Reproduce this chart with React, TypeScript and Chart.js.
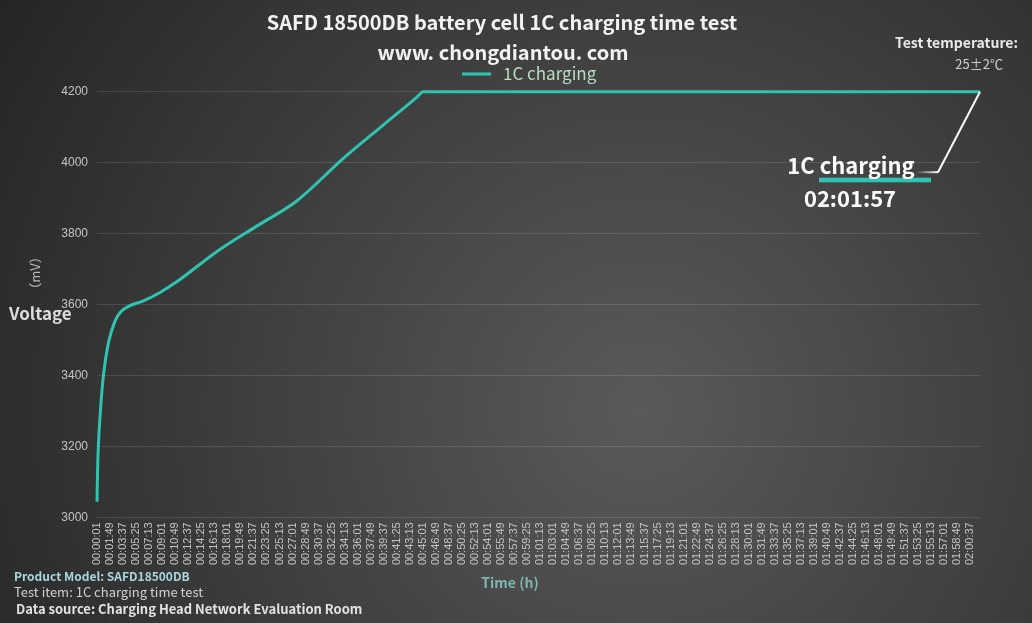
import React, { useEffect, useRef } from "react";
import { Chart, registerables } from "chart.js";

Chart.register(...registerables);

// ---- data ----
const sampleTimes: string[] = [
  "00:00:01", "00:00:05", "00:00:12", "00:00:32", "00:00:53", "00:01:35",
  "00:02:30", "00:03:20", "00:04:30", "00:06:25", "00:08:43", "00:11:01",
  "00:16:33", "00:22:04", "00:27:36", "00:34:02", "00:39:33", "00:44:10",
  "00:45:05", "02:01:57",
];
const voltageMv: number[] = [
  3044, 3120, 3199, 3312, 3396, 3491,
  3553, 3580, 3596, 3610, 3634, 3664,
  3749, 3821, 3892, 4012, 4106, 4184,
  4200, 4200,
];
const xTickLabels: string[] = [
  "00:00:01", "00:01:49", "00:03:37", "00:05:25", "00:07:13", "00:09:01",
  "00:10:49", "00:12:37", "00:14:25", "00:16:13", "00:18:01", "00:19:49",
  "00:21:37", "00:23:25", "00:25:13", "00:27:01", "00:28:49", "00:30:37",
  "00:32:25", "00:34:13", "00:36:01", "00:37:49", "00:39:37", "00:41:25",
  "00:43:13", "00:45:01", "00:46:49", "00:48:37", "00:50:25", "00:52:13",
  "00:54:01", "00:55:49", "00:57:37", "00:59:25", "01:01:13", "01:03:01",
  "01:04:49", "01:06:37", "01:08:25", "01:10:13", "01:12:01", "01:13:49",
  "01:15:37", "01:17:25", "01:19:13", "01:21:01", "01:22:49", "01:24:37",
  "01:26:25", "01:28:13", "01:30:01", "01:31:49", "01:33:37", "01:35:25",
  "01:37:13", "01:39:01", "01:40:49", "01:42:37", "01:44:25", "01:46:13",
  "01:48:01", "01:49:49", "01:51:37", "01:53:25", "01:55:13", "01:57:01",
  "01:58:49", "02:00:37",
];
const yMin = 3000;
const yMax = 4200;
const yStep = 200;
const seriesName = "1C charging";
const endLabelTime = "02:01:57";

const titleLines = ["SAFD 18500DB battery cell 1C charging time test", "www. chongdiantou. com"];
const infoLines = [
  "Product Model: SAFD18500DB",
  "Test item: 1C charging time test",
  "Data source: Charging Head Network Evaluation Room",
];

const toSec = (s: string) => {
  const [h, m, x] = s.split(":").map(Number);
  return h * 3600 + m * 60 + x;
};
const tickSecs = xTickLabels.map(toSec);
const tickMap = new Map<number, string>();
xTickLabels.forEach((l) => tickMap.set(toSec(l), l));

const CJK = '"Noto Sans CJK SC", "Noto Sans", sans-serif';
const TEAL = "#2fc4b2";

const bgPlugin = {
  id: "bg",
  beforeDraw(chart: any) {
    const { ctx, width, height } = chart;
    ctx.save();
    const g = ctx.createRadialGradient(640, 410, 0, 640, 410, 760);
    g.addColorStop(0, "#5a5a5a");
    g.addColorStop(1, "#252525");
    ctx.fillStyle = g;
    ctx.fillRect(0, 0, width, height);
    ctx.restore();
  },
};

const textPlugin = {
  id: "texts",
  afterDraw(chart: any) {
    const { ctx } = chart;
    ctx.save();
    ctx.textBaseline = "middle";
    // title
    ctx.fillStyle = "#f2f2f2";
    ctx.textAlign = "center";
    ctx.font = `bold 20px ${CJK}`;
    ctx.fillText(titleLines[0], 502, 22);
    ctx.fillText(titleLines[1], 503, 52);
    // legend
    ctx.strokeStyle = TEAL;
    ctx.lineWidth = 3;
    ctx.beginPath();
    ctx.moveTo(462, 74);
    ctx.lineTo(491, 74);
    ctx.stroke();
    ctx.fillStyle = "#b8dcc0";
    ctx.textAlign = "left";
    ctx.font = `17px ${CJK}`;
    ctx.fillText(seriesName, 503, 74);
    // temperature
    ctx.fillStyle = "#e8e8e8";
    ctx.textAlign = "right";
    ctx.font = `bold 14px ${CJK}`;
    ctx.fillText("Test temperature:", 1018, 43);
    ctx.fillStyle = "#cfcfcf";
    ctx.font = `13px ${CJK}`;
    ctx.fillText("25±2℃", 1003, 64);
    // y title
    ctx.textAlign = "left";
    ctx.fillStyle = "#dcdcdc";
    ctx.font = `bold 17px ${CJK}`;
    ctx.fillText("Voltage", 9, 314);
    ctx.save();
    ctx.translate(35, 273);
    ctx.rotate(-Math.PI / 2);
    ctx.textAlign = "center";
    ctx.fillStyle = "#b8b8b8";
    ctx.font = `13px ${CJK}`;
    ctx.fillText("（mV）", 0, 0);
    ctx.restore();
    // x title
    ctx.textAlign = "center";
    ctx.fillStyle = "#7fb5b0";
    ctx.font = `bold 14px ${CJK}`;
    ctx.fillText("Time (h)", 510, 583);
    // info
    ctx.textAlign = "left";
    ctx.font = `bold 12px ${CJK}`;
    ctx.fillStyle = "#a9d5dc";
    ctx.fillText(infoLines[0], 14, 576);
    ctx.font = `13px ${CJK}`;
    ctx.fillStyle = "#d0d0d0";
    ctx.fillText(infoLines[1], 14, 592);
    ctx.font = `bold 13px ${CJK}`;
    ctx.fillStyle = "#e2e2e2";
    ctx.fillText(infoLines[2], 16, 609);

    // end annotation
    const meta = chart.getDatasetMeta(0);
    const last = meta.data[meta.data.length - 1];
    if (last) {
      const px = last.x;
      const py = last.y;
      const ex = px - 42;
      const ey = py + 80.5;
      ctx.strokeStyle = "#ffffff";
      ctx.lineWidth = 2;
      ctx.beginPath();
      ctx.moveTo(px, py);
      ctx.lineTo(ex, ey);
      ctx.stroke();
      const lg = ctx.createLinearGradient(ex, 0, ex - 22, 0);
      lg.addColorStop(0, "rgba(255,255,255,1)");
      lg.addColorStop(1, "rgba(255,255,255,0)");
      ctx.strokeStyle = lg;
      ctx.beginPath();
      ctx.moveTo(ex, ey);
      ctx.lineTo(ex - 22, ey);
      ctx.stroke();
      ctx.fillStyle = TEAL;
      ctx.fillRect(px - 161, py + 86, 112, 4.6);
      ctx.fillStyle = "#ffffff";
      ctx.textAlign = "center";
      ctx.font = `bold 22px ${CJK}`;
      ctx.fillText(seriesName, px - 129, py + 74);
      ctx.fillText(endLabelTime, px - 130, py + 107);
    }
    ctx.restore();
  },
};

export default function App() {
  const ref = useRef<HTMLCanvasElement | null>(null);
  useEffect(() => {
    if (!ref.current) return;
    const chart = new Chart(ref.current, {
      type: "line",
      data: {
        datasets: [
          {
            label: seriesName,
            data: sampleTimes.map((t, i) => ({ x: toSec(t), y: voltageMv[i] })),
            borderColor: TEAL,
            backgroundColor: TEAL,
            borderWidth: 3,
            pointRadius: 0,
            cubicInterpolationMode: "monotone",
            clip: 10,
          },
        ],
      },
      options: {
        animation: false,
        responsive: true,
        maintainAspectRatio: false,
        layout: { padding: { top: 91.7, right: 52, bottom: 45.7, left: 0 } },
        plugins: {
          legend: { display: false },
          title: { display: false },
          tooltip: { enabled: false },
        },
        scales: {
          x: {
            type: "linear",
            min: toSec(sampleTimes[0]),
            max: toSec(sampleTimes[sampleTimes.length - 1]),
            afterBuildTicks: (scale: any) => {
              scale.ticks = tickSecs.map((v) => ({ value: v }));
            },
            afterFit: (scale: any) => {
              scale.height = 60;
            },
            grid: { display: false, drawTicks: false },
            border: { display: false },
            ticks: {
              autoSkip: false,
              minRotation: 90,
              maxRotation: 90,
              padding: 5,
              color: "#c4c4c4",
              font: { family: '"Liberation Sans", Arial, sans-serif', size: 11 },
              callback: (v: any) => tickMap.get(Number(v)) ?? "",
            },
          },
          y: {
            min: yMin,
            max: yMax,
            afterFit: (scale: any) => {
              scale.width = 97;
            },
            grid: { color: "rgba(255,255,255,0.12)", drawTicks: false, lineWidth: 1 },
            border: { display: false },
            ticks: {
              stepSize: yStep,
              padding: 9,
              color: "#c4c4c4",
              font: { family: '"Liberation Sans", Arial, sans-serif', size: 12 },
              callback: (v: any) => String(v),
            },
          },
        },
      },
      plugins: [bgPlugin, textPlugin],
    } as any);
    return () => chart.destroy();
  }, []);
  return (
    <div style={{ position: "absolute", left: 0, top: 0, width: 1032, height: 623 }}>
      <canvas ref={ref} />
    </div>
  );
}
